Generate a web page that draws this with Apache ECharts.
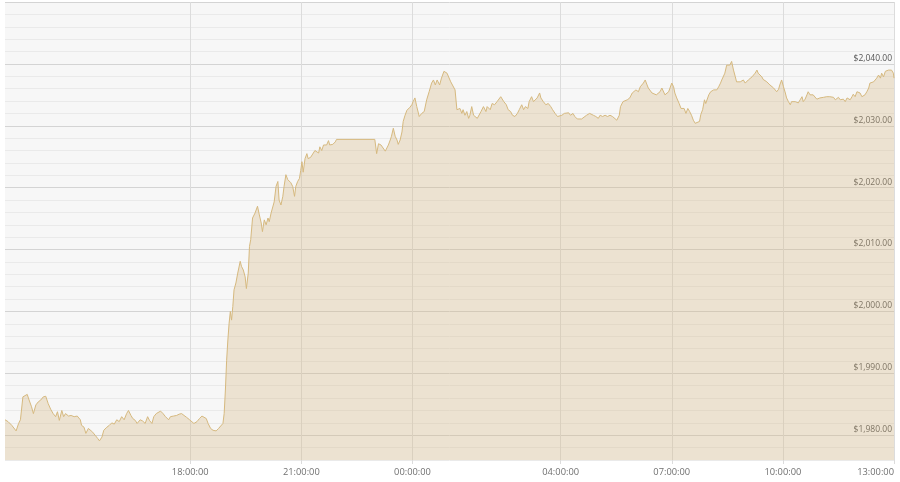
<!DOCTYPE html>
<html><head><meta charset="utf-8">
<script src="https://cdn.jsdelivr.net/npm/echarts@6/dist/echarts.min.js"></script>
<style>html,body{margin:0;padding:0;background:#fff}#c{width:900px;height:482px}</style>
</head><body><div id="c"></div>
<script>
// x values: minutes since 13:00 (previous day); y: price in USD
const tickMinutes = [300, 480, 660, 900, 1080, 1260, 1440];
const tickLabels = ['18:00:00', '21:00:00', '00:00:00', '04:00:00', '07:00:00', '10:00:00', '13:00:00'];

const minutes = [
0,5,11,18,22,25,29,32,36,39,43,46,50,54,58,62,66,70,74,78,82,85,88,92,95,98,103,107,112,117,
122,124,128,131,135,138,142,146,150,153,157,160,165,169,173,177,181,185,189,193,197,200,204,207,211,214,219,223,227,231,
234,238,241,245,248,252,256,260,265,268,273,278,282,286,290,294,299,302,306,311,315,319,322,326,329,333,337,342,346,349,
353,355,357,359,361,363,365,367,369,371,374,377,381,383,386,389,391,394,396,398,401,405,409,412,415,417,420,423,426,428,
431,434,436,439,442,444,447,450,452,455,458,461,463,466,469,471,474,477,479,481,483,486,489,491,495,498,502,505,508,510,
513,516,518,521,524,526,531,535,537,599,602,605,609,612,616,618,621,624,626,629,632,635,637,640,643,645,648,651,653,656,
659,661,664,667,671,675,679,683,687,691,694,697,700,704,707,711,714,716,719,722,725,729,732,734,737,740,742,745,748,751,
753,756,759,762,765,768,771,775,779,781,786,789,793,797,799,803,806,808,812,815,819,822,826,830,833,837,840,843,847,849,
853,856,859,862,866,868,872,876,880,884,887,891,895,898,902,906,909,913,916,920,923,927,930,934,938,942,947,949,953,957,
961,964,968,972,976,980,984,987,991,995,997,1001,1004,1008,1012,1016,1019,1022,1026,1029,1031,1034,1037,1040,1042,1045,1048,1051,1055,1058,
1061,1064,1066,1069,1072,1075,1077,1080,1083,1085,1088,1092,1095,1098,1100,1103,1106,1109,1112,1115,1118,1121,1125,1127,1130,1133,1135,1137,1140,1143,
1145,1148,1151,1153,1156,1159,1161,1164,1166,1169,1172,1174,1177,1180,1183,1185,1188,1191,1193,1196,1199,1202,1204,1207,1210,1212,1215,1218,1220,1223,
1226,1228,1231,1234,1237,1239,1242,1245,1247,1250,1253,1255,1258,1261,1264,1266,1269,1272,1274,1277,1280,1283,1285,1288,1291,1293,1296,1299,1301,1304,
1307,1309,1312,1315,1318,1320,1323,1326,1328,1331,1334,1336,1339,1342,1345,1347,1350,1353,1355,1358,1361,1364,1366,1369,1372,1374,1377,1380,1382,1385,
1388,1390,1393,1396,1399,1401,1404,1407,1409,1412,1415,1418,1420,1423,1426,1428,1431,1434,1436,1439,1440
];

const prices = [
1982.5,1982.2,1981.6,1980.7,1981.9,1982.5,1986.2,1986.5,1986.6,1985.7,1984.6,1983.5,1984.9,1985.4,1985.7,1986.2,1986.3,1985.1,1984.2,1983.5,1983.0,1983.8,1982.4,1984.0,1983.0,1983.5,1983.1,1983.2,1983.0,1983.1,
1982.5,1981.6,1981.3,1980.3,1981.1,1980.8,1980.5,1980.0,1979.5,1979.1,1979.7,1980.8,1981.3,1981.6,1982.0,1981.8,1982.5,1982.2,1983.0,1982.5,1983.5,1984.0,1983.2,1982.7,1982.4,1981.9,1982.5,1982.3,1981.9,1983.0,
1982.4,1981.9,1983.0,1983.5,1983.8,1983.9,1983.5,1983.0,1982.5,1983.0,1983.1,1983.2,1983.4,1983.5,1983.2,1982.9,1982.5,1982.2,1981.9,1982.2,1982.7,1983.1,1983.2,1982.7,1981.9,1981.1,1980.8,1980.7,1981.1,1980.8,
1981.9,1983.5,1987.3,1992.1,1995.4,1998.1,2000.0,1998.6,2000.8,2003.5,2004.6,2006.2,2008.1,2007.3,2006.7,2005.6,2003.7,2006.2,2010.5,2011.6,2015.1,2015.9,2017.0,2015.6,2014.3,2012.9,2014.8,2014.0,2015.1,2014.5,
2015.9,2015.6,2017.7,2020.2,2021.0,2018.0,2017.2,2018.6,2020.2,2022.1,2021.3,2021.3,2020.8,2020.2,2018.6,2020.2,2021.0,2021.5,2022.8,2024.2,2022.5,2024.7,2025.5,2024.7,2024.9,2024.7,2026.0,2026.3,2025.6,2026.6,
2026.0,2026.9,2027.1,2026.9,2027.6,2026.9,2027.0,2027.4,2027.8,2027.8,2025.5,2027.1,2026.9,2026.6,2025.9,2026.2,2026.9,2027.7,2028.3,2029.6,2028.3,2027.7,2027.0,2027.7,2029.0,2030.7,2031.7,2032.5,2032.6,2033.0,
2033.4,2033.9,2034.5,2033.1,2031.5,2032.0,2032.3,2034.2,2035.5,2036.9,2037.4,2036.6,2037.4,2036.6,2037.7,2038.8,2039.0,2038.5,2038.8,2037.1,2036.9,2035.8,2032.6,2032.3,2032.8,2032.0,2032.6,2031.7,2032.3,2031.2,
2031.7,2033.1,2031.7,2031.7,2031.2,2030.9,2032.3,2033.1,2032.3,2033.1,2032.6,2033.6,2033.4,2033.9,2033.6,2034.7,2035.0,2033.9,2033.4,2032.6,2032.3,2031.7,2031.5,2032.0,2032.6,2033.4,2032.6,2033.1,2032.8,2033.9,
2034.7,2033.9,2033.6,2034.5,2035.3,2034.5,2033.9,2033.4,2033.6,2033.1,2032.6,2032.0,2031.5,2031.2,2031.7,2032.0,2031.7,2032.1,2031.7,2032.0,2031.5,2031.1,2030.9,2031.1,2031.4,2031.7,2032.0,2032.3,2031.7,2031.5,
2031.2,2031.7,2031.5,2031.7,2031.5,2031.7,2031.5,2031.6,2030.9,2031.7,2033.1,2033.9,2033.6,2034.2,2034.5,2035.3,2035.5,2035.8,2035.5,2036.3,2036.6,2036.9,2037.4,2036.6,2036.1,2035.8,2035.3,2035.3,2035.0,2035.3,
2035.5,2036.1,2035.8,2035.0,2035.3,2035.5,2035.8,2036.9,2036.3,2035.3,2034.5,2033.6,2032.8,2032.6,2032.8,2032.0,2032.8,2032.3,2031.7,2030.9,2030.4,2030.7,2030.7,2031.8,2032.6,2034.2,2033.6,2033.9,2035.0,2035.5,
2035.2,2035.8,2036.1,2035.8,2036.3,2036.9,2037.4,2037.7,2038.5,2039.8,2040.1,2039.8,2040.4,2039.0,2037.9,2037.1,2036.9,2037.1,2036.9,2037.4,2036.9,2037.1,2037.4,2037.7,2037.9,2038.2,2038.5,2039.0,2038.5,2038.2,
2037.9,2037.5,2037.7,2037.1,2036.9,2036.6,2036.3,2036.1,2035.8,2035.5,2035.9,2036.6,2037.4,2036.3,2035.3,2034.5,2033.9,2033.4,2033.9,2034.2,2033.9,2034.2,2033.7,2034.2,2034.7,2033.9,2034.3,2035.0,2035.5,2035.0,
2034.7,2035.0,2034.7,2034.3,2034.6,2034.5,2034.2,2034.6,2034.3,2034.7,2034.5,2034.7,2034.5,2034.6,2034.2,2034.5,2034.6,2034.2,2033.9,2034.3,2033.9,2034.5,2034.6,2034.2,2034.7,2035.1,2034.7,2035.5,2035.8,2035.3,
2034.7,2034.5,2035.0,2035.5,2036.1,2036.9,2036.6,2037.1,2036.9,2037.7,2038.2,2037.7,2038.5,2037.9,2038.8,2038.5,2039.0,2038.8,2039.0,2038.5,2037.7
];

const yMin = 1976, yMax = 2050, yStep = 2, labelStep = 10;
const xMin = 0, xMax = 1440;

function fmtPrice(v) {
  const s = String(Math.round(v));
  return '$' + s.slice(0, s.length - 3) + ',' + s.slice(-3) + '.00';
}

const chart = echarts.init(document.getElementById('c'), null, {renderer: 'canvas'});
const data = minutes.map((m, i) => [m, prices[i]]);

chart.setOption({
  animation: false,
  grid: {left: 5, right: 6, top: 2, bottom: 22, show: true, backgroundColor: '#f7f7f7', borderWidth: 0},
  xAxis: {
    type: 'value', min: xMin, max: xMax,
    axisLine: {show: false},
    axisTick: {show: true, customValues: tickMinutes, length: 4, lineStyle: {color: '#dcdcdc'}},
    axisLabel: {
      customValues: tickMinutes,
      formatter: v => { const i = tickMinutes.indexOf(v); return i >= 0 ? tickLabels[i] : ''; },
      color: '#707070', fontSize: 9.3, fontFamily: 'Open Sans', margin: 8, alignMaxLabel: 'right'
    },
    splitLine: {show: true, lineStyle: {color: '#dcdcdc', width: 1}}
  },
  yAxis: {
    type: 'value', position: 'right', min: yMin, max: yMax, interval: yStep,
    axisLine: {show: false}, axisTick: {show: false},
    axisLabel: {
      inside: true, margin: 2, verticalAlign: 'bottom',
      formatter: v => (v % labelStep === 0 && v < yMax) ? fmtPrice(v) : '',
      color: '#555', fontSize: 8.5, fontFamily: 'Open Sans', padding: [0, 0, 1, 0]
    },
    splitLine: {show: true, lineStyle: {color: ['#eaeaea', '#eaeaea', '#d4d4d4', '#eaeaea', '#eaeaea'], width: 1}}
  },
  series: [{
    type: 'line', data: data, symbol: 'none', showSymbol: false,
    lineStyle: {color: '#d6b97f', width: 1},
    areaStyle: {color: 'rgba(214,184,128,0.45)'}
  }]
});
</script></body></html>
